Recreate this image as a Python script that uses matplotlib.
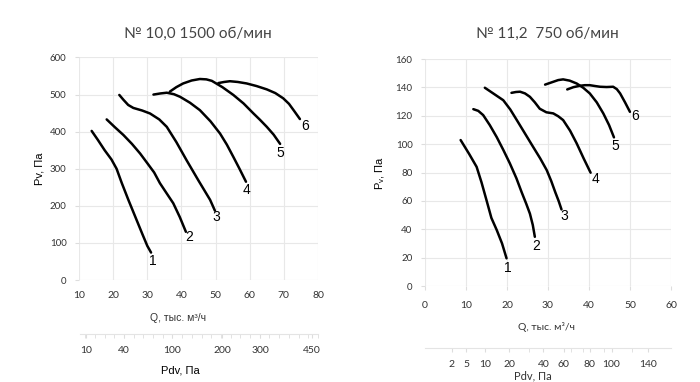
import numpy as np
from matplotlib import pyplot as plt

# --- N 10,0 1500 ob/min: Q (тыс. м3/ч) , Pv (Па)
q10 = [
    [13.7, 15.5, 17.5, 19.5, 21.0, 22.5, 24.5, 26.5, 28.5, 30.0, 31.1],
    [18.1, 20.5, 23.0, 25.5, 27.9, 30.0, 32.0, 33.7, 35.5, 37.6, 39.5, 41.3],
    [21.8, 23.0, 24.4, 25.9, 28.5, 30.8, 33.5, 35.7, 38.5, 41.5, 45.0, 48.4, 49.8],
    [31.8, 33.8, 35.7, 37.8, 39.6, 42.5, 45.4, 48.5, 51.3, 53.3, 55.2, 57.0, 58.9],
    [36.6, 38.5, 40.5, 43.0, 45.4, 47.3, 48.9, 52.0, 55.2, 58.2, 61.1, 63.0, 65.0, 67.0, 68.9],
    [50.8, 52.5, 54.2, 56.5, 59.1, 62.0, 65.0, 67.5, 69.8, 71.5, 73.0, 74.7],
]
p10 = [
    [402, 378, 350, 325, 300, 262, 215, 170, 125, 92, 74],
    [433, 412, 391, 367, 341, 315, 290, 261, 236, 207, 170, 130],
    [499, 486, 472, 464, 457, 449, 433, 413, 372, 323, 268, 216, 187],
    [500, 503, 505, 501, 494, 478, 458, 428, 395, 365, 332, 300, 265],
    [508, 520, 530, 538, 542, 541, 537, 520, 499, 476, 449, 432, 413, 392, 367],
    [531, 534, 536, 534, 530, 523, 514, 504, 490, 475, 456, 434],
]
lab10 = [(31.7, 52), (42.3, 115), (50.1, 169), (59.1, 243), (68.9, 343), (76.2, 415)]

# --- N 11,2 750 ob/min
q11 = [
    [8.7, 10.8, 12.6, 13.8, 15.0, 16.2, 17.5, 18.8, 19.9],
    [11.8, 13.0, 14.2, 15.8, 17.5, 19.1, 20.7, 22.3, 23.6, 24.7, 25.6, 26.3, 26.8],
    [14.6, 16.8, 19.1, 20.8, 22.4, 24.4, 26.4, 28.1, 29.7, 30.8, 31.8, 32.6, 33.3],
    [21.1, 22.2, 23.2, 24.4, 25.6, 26.8, 28.0, 29.6, 31.3, 32.5, 33.7, 35.4, 37.0, 38.7, 40.4],
    [29.3, 30.3, 31.3, 32.5, 33.7, 35.3, 37.0, 38.6, 40.2, 41.9, 43.5, 44.9, 46.1],
    [34.7, 36.2, 37.8, 39.0, 40.2, 41.5, 42.7, 44.3, 45.9, 46.8, 47.6, 48.8, 50.0],
]
p11 = [
    [102.9, 93, 84, 73, 60.6, 48, 39.5, 30, 19.5],
    [124.7, 123.5, 120.5, 113.5, 105, 96, 86.5, 76, 66, 58, 51, 43, 34.7],
    [139.8, 135.5, 131, 124.5, 117, 107.5, 98, 90, 81.7, 74, 66, 60, 54],
    [136.2, 136.8, 137, 135.8, 133.4, 129.5, 125, 122.5, 121.7, 119.7, 117, 109.5, 100.6, 90, 79.9],
    [142, 143, 144, 145.2, 145.7, 144.8, 142.8, 139.8, 135.8, 129.5, 121.7, 113.5, 104.8],
    [138.6, 140.2, 141.2, 141.6, 141.6, 141, 140.5, 140.3, 140.5, 138.8, 135.8, 129.5, 122.8],
]
lab11 = [(20.3, 13), (27.2, 28), (34.1, 49.5), (41.5, 75.4), (46.5, 98.7), (51.2, 119.8)]

# Pdv scale (positions in Q units)
pdv10_pos = [11.8, 22.9, 37.2, 51.9, 63.0, 78.2]
pdv10_lab = ["10", "40", "100", "200", "300", "450"]
pdv11_pos = [6.5, 10.0, 14.6, 20.6, 28.9, 33.8, 40.2, 45.5, 54.3]
pdv11_lab = ["2", "5", "10", "20", "40", "60", "80", "100", "140"]
pdv11_minor = [25.4, 35.6, 38.6, 43.7, 50.4]

gridc = "#e8e8e8"
tickc = "#333333"
tfont = "Lato"
afont = "Liberation Sans"

fig = plt.figure(figsize=(7, 3.82), dpi=100)


def main_axes(rect, xlim, ylim, xt, yt, qs, ps, labs):
    ax = fig.add_axes(rect)
    ax.set_xlim(*xlim)
    ax.set_ylim(*ylim)
    ax.set_xticks(xt)
    ax.set_yticks(yt)
    ax.grid(True, color=gridc, lw=0.8)
    for s in ax.spines.values():
        s.set_visible(False)
    ax.tick_params(axis="y", length=3, color="#dddddd", labelsize=7, labelcolor=tickc, pad=6)
    ax.tick_params(axis="x", length=0, labelsize=7.5, labelcolor=tickc, pad=8)
    for lbl in ax.get_xticklabels() + ax.get_yticklabels():
        lbl.set_fontfamily(tfont)
    for i in range(len(qs)):
        ax.plot(qs[i], ps[i], color="black", lw=1.8, solid_capstyle="round", solid_joinstyle="round")
        ax.text(labs[i][0], labs[i][1], str(i + 1), fontsize=10, family=afont,
                ha="center", va="center")
    return ax


def pdv_axes(rect, xlim, pos, labs, minor):
    ax = fig.add_axes(rect)
    ax.set_xlim(*xlim)
    ax.set_ylim(0, 1)
    ax.set_yticks([])
    for k in ["top", "left", "right"]:
        ax.spines[k].set_visible(False)
    ax.spines["bottom"].set_color("#e4e4e4")
    ax.set_xticks(pos)
    ax.set_xticklabels(labs, family=tfont)
    ax.set_xticks(minor, minor=True)
    ax.tick_params(axis="x", which="both", length=3, color="#dddddd", labelsize=7.5,
                   labelcolor=tickc, pad=6)
    ax.patch.set_alpha(0)
    return ax


a1 = main_axes([0.1129, 0.267, 0.3414, 0.5825], (10, 80), (0, 600),
               range(10, 81, 10), range(0, 601, 100), q10, p10, lab10)
a1.set_ylabel("Pv, Па", family=afont, fontsize=8, labelpad=4)
fig.text(0.2543, 0.168, "Q, тыс. м³/ч", family=afont, fontsize=7.5, ha="center", va="center", color=tickc)
fig.text(0.2821, 0.912, "№ 10,0 1500 об/мин", family=tfont, fontsize=11, ha="center", va="center", color="#444444")
pdv_axes([0.1143, 0.1257, 0.34, 0.0001], (10, 80), pdv10_pos, pdv10_lab,
         np.linspace(11.5, 80, 25))
fig.text(0.257, 0.031, "Pdv, Па", family=afont, fontsize=8, ha="center", va="center")

a2 = main_axes([0.6071, 0.2513, 0.3514, 0.594], (0, 60), (0, 160),
               range(0, 61, 10), range(0, 161, 20), q11, p11, lab11)
a2.tick_params(axis="x", length=3, color="#dddddd")
a2.set_ylabel(r"P$_\mathregular{v}$, Па", family=afont, fontsize=8, labelpad=6)
fig.text(0.781, 0.145, "Q, тыс. м³/ч", family=tfont, fontsize=7.5, ha="center", va="center", color=tickc)
fig.text(0.7821, 0.912, "№ 11,2  750 об/мин", family=tfont, fontsize=11, ha="center", va="center", color="#444444")
pdv_axes([0.6071, 0.0898, 0.3514, 0.0001], (0, 60), pdv11_pos, pdv11_lab, pdv11_minor)
fig.text(0.761, 0.002, "Pdv, Па", family=tfont, fontsize=8, ha="center", va="bottom", color=tickc)

fig.savefig("out.png", dpi=100)
